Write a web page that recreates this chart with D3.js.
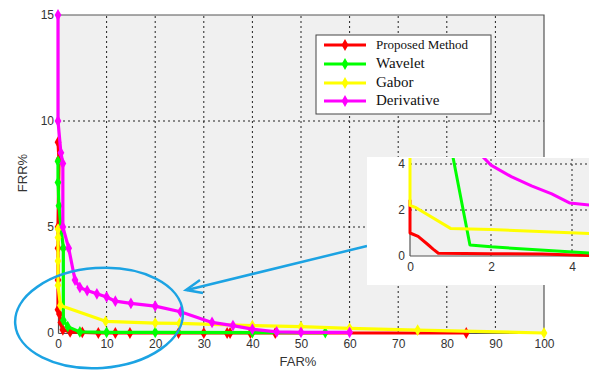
<!DOCTYPE html>
<html>
<head>
<meta charset="utf-8">
<script src="https://cdn.jsdelivr.net/npm/d3@7"></script>
<style>
  body { margin: 0; background: #fff; }
  svg { display: block; }
  .tick text { font-family: "Liberation Sans", Arial, sans-serif; font-size: 12px; fill: #333; }
</style>
</head>
<body>
<div id="chart"></div>
<script>
// main chart data (FAR %, FRR %)
const redX = [0, 0.2, 0, 0, 0, 0, 0.3, 0.6, 1.0, 2.5, 5, 8.3, 11.8, 14.8, 24.8, 30, 34.8, 35.4, 39.6, 44.7, 84];
const redY = [9.0, 8.2, 5.0, 4.0, 2.5, 1.1, 0.9, 0.5, 0.15, 0.05, 0.03, 0, 0, 0, 0, 0, 0, 0, 0, 0, 0];
const greenX = [0, 0, 0.2, 0.6, 1.1, 1.1, 2, 4.5, 10, 20, 40, 55];
const greenY = [8.1, 7.1, 6.0, 5.0, 4.0, 0.6, 0.3, 0.05, 0.03, 0.03, 0.02, 0.02];
const yellowX = [0, 0, 0, 0, 0.5, 9.8, 20, 25, 40, 50, 60, 74, 100];
const yellowY = [4.9, 4.5, 3.4, 2.25, 1.3, 0.55, 0.47, 0.45, 0.35, 0.3, 0.22, 0.14, 0.0];
const magentaX = [0, 0, 0.6, 1.0, 1.0, 2.2, 3.5, 4.5, 6, 8, 10, 11.8, 15, 20, 25.2, 31.7, 36, 40, 45, 50, 60];
const magentaY = [15, 10, 8.5, 8.0, 5.0, 4.0, 2.5, 2.15, 2.0, 1.85, 1.7, 1.5, 1.4, 1.27, 1.0, 0.5, 0.35, 0.18, 0.05, 0.03, 0.03];

// zoomed inset data
const inRedX = [0, 0, 0.2, 0.44, 0.57, 0.7, 2, 3.26, 4.5];
const inRedY = [2.45, 1.0, 0.85, 0.5, 0.3, 0.12, 0.1, 0.09, 0.02];
const inYellowX = [0, 0, 0.15, 1.0, 2, 4.5];
const inYellowY = [4.4, 2.2, 2.1, 1.2, 1.15, 0.97];
const inGreenX = [1.05, 1.48, 2, 4.5];
const inGreenY = [4.4, 0.48, 0.4, 0.12];
const inMagentaX = [1.75, 2.0, 2.5, 3.0, 3.5, 3.95, 4.5];
const inMagentaY = [4.4, 3.95, 3.45, 3.05, 2.7, 2.3, 2.2];

const legendNames = ["Proposed Method", "Wavelet", "Gabor", "Derivative"];
const colors = ["#ff0000", "#00ff00", "#ffff00", "#ff00ff"];
const xTicks = [0, 10, 20, 30, 40, 50, 60, 70, 80, 90, 100];
const yTicks = [0, 5, 10, 15];
const inTicks = [0, 2, 4];

const W = 589, H = 371;
const svg = d3.select("#chart").append("svg").attr("width", W).attr("height", H);

const x = d3.scaleLinear().domain([0, 100]).range([58, 544]);
const y = d3.scaleLinear().domain([0, 15]).range([333, 15]);

// plot background
svg.append("rect").attr("x", x(0)).attr("y", y(15))
  .attr("width", x(100) - x(0)).attr("height", y(0) - y(15)).attr("fill", "#f0f0f0");

// grid
const grid = svg.append("g").attr("stroke", "#222").attr("stroke-dasharray", "2,3").attr("stroke-width", 1);
xTicks.filter(d => d > 0 && d < 100).forEach(d => {
  grid.append("line").attr("x1", x(d)).attr("x2", x(d)).attr("y1", y(0)).attr("y2", y(15));
});
yTicks.filter(d => d > 0 && d < 15).forEach(d => {
  grid.append("line").attr("x1", x(0)).attr("x2", x(100)).attr("y1", y(d)).attr("y2", y(d));
});

// axes
const xAxis = svg.append("g").attr("transform", `translate(0,${y(0)})`)
  .call(d3.axisBottom(x).tickValues(xTicks).tickSize(0).tickPadding(6));
const yAxis = svg.append("g").attr("transform", `translate(${x(0)},0)`)
  .call(d3.axisLeft(y).tickValues(yTicks).tickSize(0).tickPadding(4));
[xAxis, yAxis].forEach(a => a.select(".domain").attr("stroke", "#555").attr("stroke-width", 1.2));
svg.append("path").attr("d", `M${x(0)},${y(15)}H${x(100)}V${y(0)}`)
  .attr("fill", "none").attr("stroke", "#555").attr("stroke-width", 1.2);

svg.append("text").attr("x", 298).attr("y", 366).attr("text-anchor", "middle")
  .attr("font-family", "Liberation Sans, Arial, sans-serif").attr("font-size", 13).attr("fill", "#333").text("FAR%");
svg.append("text").attr("transform", "translate(27,173) rotate(-90)").attr("text-anchor", "middle")
  .attr("font-family", "Liberation Sans, Arial, sans-serif").attr("font-size", 13).attr("fill", "#333").text("FRR%");

const mainSeries = [[redX, redY], [greenX, greenY], [yellowX, yellowY], [magentaX, magentaY]];
const line = (sx, sy) => d3.line().x(d => sx(d[0])).y(d => sy(d[1]));
const diamond = d3.symbol().type(d3.symbolDiamond).size(40);

mainSeries.forEach(([xs, ys], i) => {
  const pts = xs.map((v, k) => [v, ys[k]]);
  svg.append("path").datum(pts).attr("d", line(x, y)).attr("fill", "none")
    .attr("stroke", colors[i]).attr("stroke-width", 3.2).attr("stroke-linejoin", "round");
  svg.append("g").selectAll("path").data(pts).join("path")
    .attr("d", diamond).attr("transform", d => `translate(${x(d[0])},${y(d[1])})`)
    .attr("fill", colors[i]);
});

// legend
const lg = svg.append("g");
lg.append("rect").attr("x", 316).attr("y", 35).attr("width", 175).attr("height", 79)
  .attr("fill", "#fff").attr("stroke", "#444").attr("stroke-width", 1);
legendNames.forEach((n, i) => {
  const ly = [45, 64, 83, 101][i];
  lg.append("line").attr("x1", 324).attr("x2", 366).attr("y1", ly).attr("y2", ly)
    .attr("stroke", colors[i]).attr("stroke-width", 3);
  lg.append("path").attr("d", diamond).attr("transform", `translate(345,${ly})`).attr("fill", colors[i]);
  lg.append("text").attr("x", 376).attr("y", ly + 4)
    .attr("font-family", "Liberation Serif, Times New Roman, serif")
    .attr("font-size", i === 0 ? 13 : 15).attr("fill", "#111").text(n);
});

// zoom ellipse and arrow
svg.append("ellipse").attr("cx", 99).attr("cy", 318).attr("rx", 84).attr("ry", 50)
  .attr("transform", "rotate(-4,99,318)")
  .attr("fill", "none").attr("stroke", "#1ca3e3").attr("stroke-width", 2.5);
svg.append("line").attr("x1", 367).attr("y1", 246).attr("x2", 187).attr("y2", 290)
  .attr("stroke", "#1ca3e3").attr("stroke-width", 2.5);
svg.append("path").attr("d", "M200,280 L186,290 L203,293")
  .attr("fill", "none").attr("stroke", "#1ca3e3").attr("stroke-width", 2.5);

// inset
const ix = d3.scaleLinear().domain([0, 4]).range([410, 572]);
const iy = d3.scaleLinear().domain([0, 4]).range([256, 164]);
const inset = svg.append("g");
inset.append("rect").attr("x", 367).attr("y", 157).attr("width", W - 367).attr("height", 128).attr("fill", "#fff");
inset.append("rect").attr("x", ix(0)).attr("y", 158).attr("width", W - ix(0)).attr("height", iy(0) - 158).attr("fill", "#f0f0f0");
svg.append("clipPath").attr("id", "inclip").append("rect")
  .attr("x", ix(0) - 2).attr("y", 158).attr("width", W - ix(0) + 2).attr("height", iy(0) - 158 + 2);
const ig = inset.append("g").attr("stroke", "#222").attr("stroke-dasharray", "2,3");
[2, 4].forEach(d => {
  ig.append("line").attr("x1", ix(d)).attr("x2", ix(d)).attr("y1", iy(0)).attr("y2", 158);
  ig.append("line").attr("x1", ix(0)).attr("x2", W).attr("y1", iy(d)).attr("y2", iy(d));
});
const ixAxis = inset.append("g").attr("transform", `translate(0,${iy(0)})`)
  .call(d3.axisBottom(ix).tickValues(inTicks).tickFormat(d3.format("d")).tickSize(0).tickPadding(6));
const iyAxis = inset.append("g").attr("transform", `translate(${ix(0)},0)`)
  .call(d3.axisLeft(iy).tickValues(inTicks).tickFormat(d3.format("d")).tickSize(0).tickPadding(5));
ixAxis.selectAll(".tick text").attr("font-size", 14);
iyAxis.selectAll(".tick text").attr("font-size", 14);
ixAxis.select(".domain").attr("d", `M${ix(0)},0H${W}`).attr("stroke", "#555").attr("stroke-width", 1.2);
iyAxis.select(".domain").attr("d", `M0,${iy(0)}V158`).attr("stroke", "#555").attr("stroke-width", 1.2);
const insetSeries = [[inRedX, inRedY], [inGreenX, inGreenY], [inYellowX, inYellowY], [inMagentaX, inMagentaY]];
insetSeries.forEach(([xs, ys], i) => {
  const pts = xs.map((v, k) => [v, ys[k]]);
  inset.append("path").datum(pts).attr("d", line(ix, iy)).attr("fill", "none")
    .attr("clip-path", "url(#inclip)")
    .attr("stroke", colors[i]).attr("stroke-width", 3).attr("stroke-linejoin", "round");
});
</script>
</body>
</html>
